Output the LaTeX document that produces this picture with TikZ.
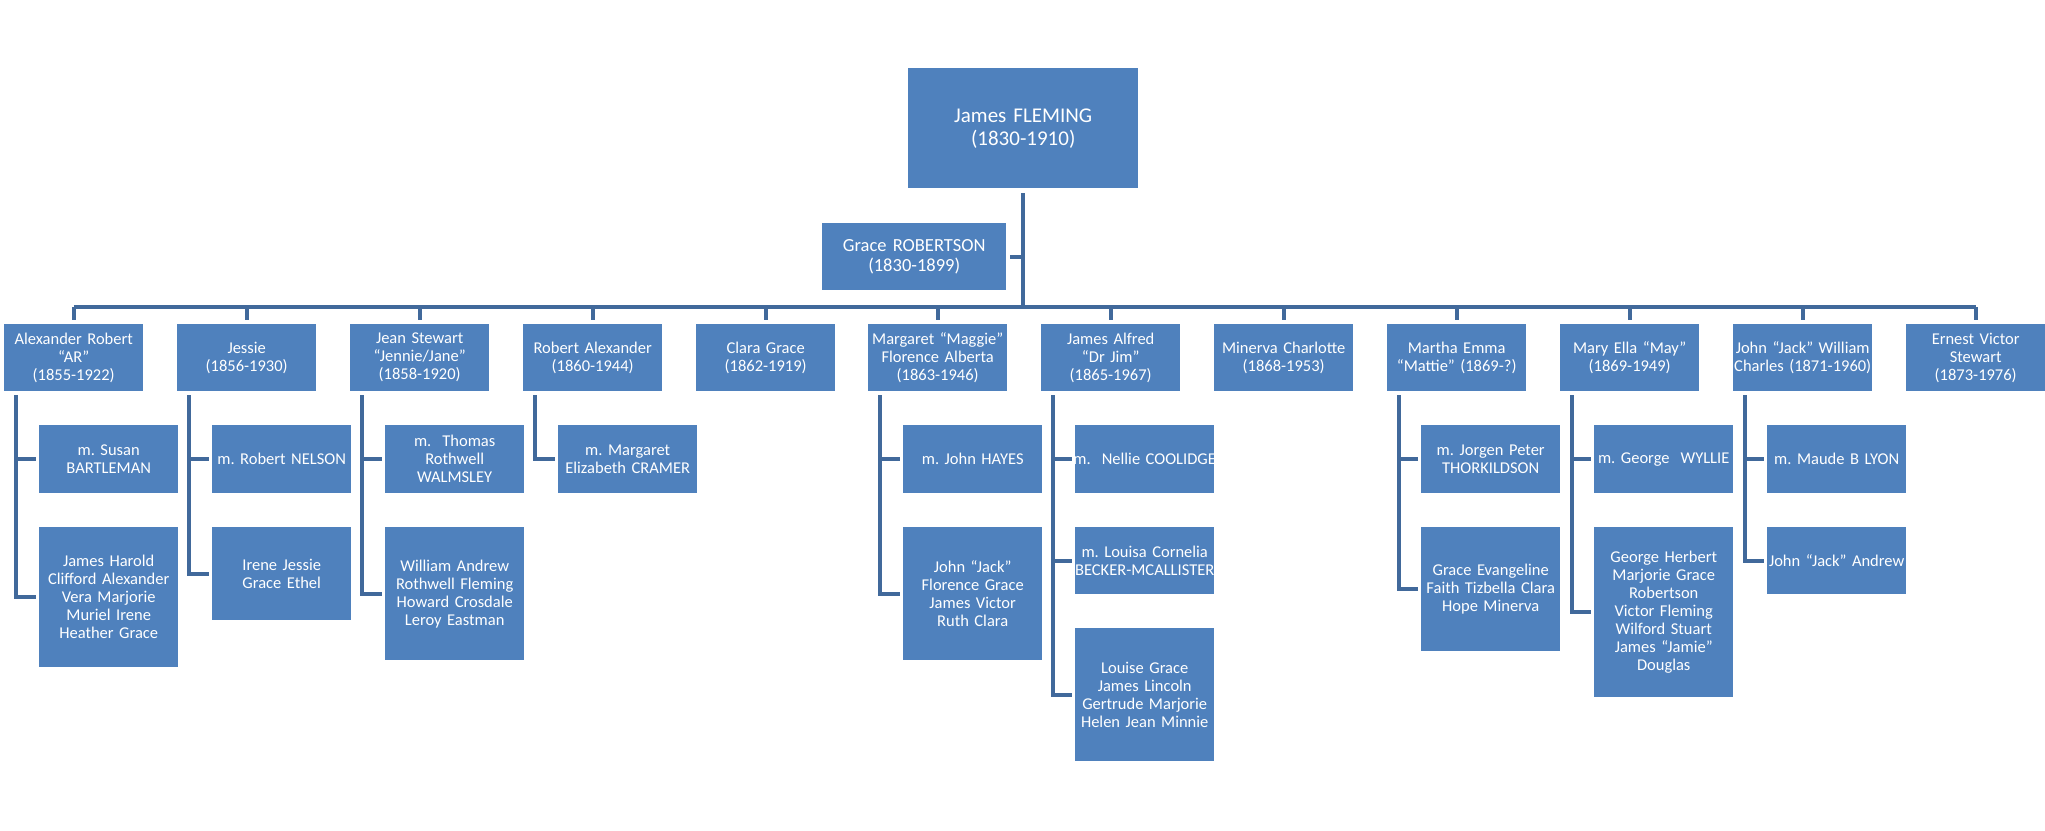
\documentclass[tikz,border=0pt]{standalone}
\usepackage{fontspec}
\setmainfont{Carlito}
\frenchspacing
\definecolor{boxblue}{HTML}{4F81BD}
\definecolor{linkblue}{HTML}{41699B}
\newcommand{\wl}[1]{\makebox[0pt][c]{#1}}
\begin{document}
\begin{tikzpicture}[x=1pt,y=-1pt,
  box/.style={fill=boxblue, text=white, inner sep=0pt, anchor=north west, align=center,
    text width=139pt, font=\fontsize{16.5}{18}\selectfont\frenchspacing},
  conn/.style={draw=linkblue, line width=4pt}]
\useasboundingbox (0,0) rectangle (2045,830);
% root and spouse
\node[box, text width=230pt, minimum height=120pt, font=\fontsize{21}{23}\selectfont] (root) at (908,68) {James FLEMING\\(1830-1910)};
\node[box, text width=184pt, minimum height=67pt, font=\fontsize{18.5}{20}\selectfont] (grace) at (822,223) {Grace ROBERTSON\\(1830-1899)};
% children
\node[box, minimum height=67pt] (c1) at (4,324) {Alexander Robert\\“AR”\\(1855-1922)};
\node[box, minimum height=67pt] (c2) at (177,324) {Jessie\\(1856-1930)};
\node[box, minimum height=67pt] (c3) at (350,324) {Jean Stewart\\“Jennie/Jane”\\(1858-1920)};
\node[box, minimum height=67pt] (c4) at (523,324) {Robert Alexander\\(1860-1944)};
\node[box, minimum height=67pt] (c5) at (696,324) {Clara Grace\\(1862-1919)};
\node[box, minimum height=67pt] (c6) at (868,324) {\wl{Margaret “Maggie”}\\Florence Alberta\\(1863-1946)};
\node[box, minimum height=67pt] (c7) at (1041,324) {James Alfred\\“Dr Jim”\\(1865-1967)};
\node[box, minimum height=67pt] (c8) at (1214,324) {\wl{Minerva Charlotte}\\(1868-1953)};
\node[box, minimum height=67pt] (c9) at (1387,324) {Martha Emma\\\wl{“Mattie” (1869-?)}};
\node[box, minimum height=67pt] (c10) at (1560,324) {Mary Ella “May”\\(1869-1949)};
\node[box, minimum height=67pt] (c11) at (1733,324) {\wl{John “Jack” William}\\\wl{Charles (1871-1960)}};
\node[box, minimum height=67pt] (c12) at (1906,324) {Ernest Victor\\Stewart\\(1873-1976)};
% spouses and grandchildren
\node[box, minimum height=68pt] (s1) at (39,425) {m. Susan\\BARTLEMAN};
\node[box, minimum height=140pt] (k1) at (39,527) {James Harold\\\wl{Clifford Alexander}\\Vera Marjorie\\Muriel Irene\\Heather Grace};
\node[box, minimum height=68pt] (s2) at (212,425) {\wl{m. Robert NELSON}};
\node[box, minimum height=93pt] (k2) at (212,527) {Irene Jessie\\Grace Ethel};
\node[box, minimum height=68pt] (s3) at (385,425) {m.\ \ Thomas\\Rothwell\\WALMSLEY};
\node[box, minimum height=133pt] (k3) at (385,527) {William Andrew\\\wl{Rothwell Fleming}\\\wl{Howard Crosdale}\\Leroy Eastman};
\node[box, minimum height=68pt] (s4) at (558,425) {m. Margaret\\\wl{Elizabeth CRAMER}};
\node[box, minimum height=68pt] (s6) at (903,425) {m. John HAYES};
\node[box, minimum height=133pt] (k6) at (903,527) {John “Jack”\\Florence Grace\\James Victor\\Ruth Clara};
\node[box, minimum height=68pt] (s7) at (1075,425) {\wl{m.\ \ Nellie COOLIDGE}};
\node[box, minimum height=67pt] (t7) at (1075,527) {\wl{m. Louisa Cornelia}\\\wl{BECKER-MCALLISTER}};
\node[box, minimum height=133pt] (k7) at (1075,628) {Louise Grace\\James Lincoln\\\wl{Gertrude Marjorie}\\\wl{Helen Jean Minnie}};
\node[box, minimum height=68pt] (s9) at (1421,425) {m. Jorgen Peter\\THORKILDSON};
\node[box, minimum height=124pt] (k9) at (1421,527) {\wl{Grace Evangeline}\\\wl{Faith Tizbella Clara}\\Hope Minerva};
\node[box, minimum height=68pt] (s10) at (1594,425) {\wl{m. George\ \ WYLLIE}};
\node[box, minimum height=170pt] (k10) at (1594,527) {George Herbert\\Marjorie Grace\\Robertson\\Victor Fleming\\Wilford Stuart\\James “Jamie”\\Douglas};
\node[box, minimum height=68pt] (s11) at (1767,425) {\wl{m. Maude B LYON}};
\node[box, minimum height=67pt] (k11) at (1767,527) {\wl{John “Jack” Andrew}};
% trunk and bar
\coordinate (barY) at (0,307);
\draw[conn] ([yshift=-5pt]root.south) -- (root.south |- barY);
\draw[conn] (root.south |- grace.east) -- ([xshift=4pt]grace.east);
\draw[conn] (c1.north |- barY) -- (c12.north |- barY);
\foreach \i in {1,...,12}{
  \draw[conn] (c\i.north |- barY) -- ([yshift=4pt]c\i.north);
}
% branches below children
\foreach \c/\last in {1/k1,2/k2,3/k3,4/s4,6/k6,7/k7,9/k9,10/k10,11/k11}{
  \coordinate (v\c) at ([xshift=11.5pt,yshift=-4pt]c\c.south west);
  \draw[conn] (v\c) |- ([xshift=-3pt]\last.west);
}
\foreach \c/\s in {1/s1,2/s2,3/s3,6/s6,7/s7,7/t7,9/s9,10/s10,11/s11}{
  \draw[conn] (v\c |- \s.west) -- ([xshift=-3pt]\s.west);
}
\end{tikzpicture}
\end{document}
